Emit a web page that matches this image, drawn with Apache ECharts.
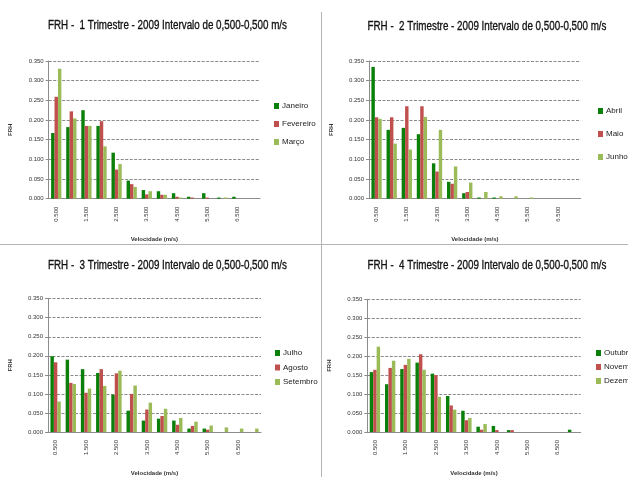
<!DOCTYPE html>
<html>
<head>
<meta charset="utf-8">
<script src="https://cdn.jsdelivr.net/npm/echarts@6/dist/echarts.min.js"></script>
<style>
  html, body { margin: 0; padding: 0; background: #fff; }
  #main { width: 628px; height: 477px; }
</style>
</head>
<body>
<div id="main"></div>
<script>
const categories = ['0.500', '1.000', '1.500', '2.000', '2.500', '3.000', '3.500',
    '4.000', '4.500', '5.000', '5.500', '6.000', '6.500', '7.000']
const yTicks = [0, 0.05, 0.1, 0.15, 0.2, 0.25, 0.3, 0.35]

const janeiro = [0.167, 0.182, 0.225, 0.185, 0.117, 0.046, 0.022, 0.019, 0.014, 0.005, 0.014, 0.003, 0.005, 0]
const fevereiro = [0.259, 0.222, 0.185, 0.197, 0.074, 0.037, 0.011, 0.010, 0.005, 0.003, 0.003, 0, 0, 0]
const marco = [0.330, 0.204, 0.185, 0.133, 0.088, 0.030, 0.019, 0.010, 0.003, 0, 0, 0.003, 0, 0]

const abril = [0.335, 0.175, 0.180, 0.164, 0.090, 0.043, 0.014, 0.003, 0.003, 0, 0, 0, 0, 0]
const maio = [0.207, 0.207, 0.235, 0.235, 0.069, 0.038, 0.017, 0, 0, 0, 0, 0, 0, 0]
const junho = [0.203, 0.140, 0.125, 0.208, 0.175, 0.082, 0.041, 0.017, 0.006, 0.006, 0.003, 0, 0, 0]

const julho = [0.199, 0.190, 0.165, 0.155, 0.098, 0.056, 0.030, 0.035, 0.030, 0.009, 0.009, 0, 0, 0]
const agosto = [0.183, 0.129, 0.103, 0.165, 0.154, 0.100, 0.059, 0.042, 0.019, 0.016, 0.006, 0, 0, 0]
const setembro = [0.080, 0.126, 0.114, 0.121, 0.161, 0.122, 0.077, 0.061, 0.037, 0.027, 0.017, 0.012, 0.009, 0.009]

const outubro = [0.158, 0.126, 0.166, 0.183, 0.154, 0.095, 0.056, 0.014, 0.016, 0.005, 0, 0, 0, 0.006]
const novembro = [0.164, 0.169, 0.177, 0.205, 0.150, 0.070, 0.031, 0.006, 0.005, 0.005, 0, 0, 0, 0]
const dezembro = [0.225, 0.188, 0.193, 0.164, 0.093, 0.059, 0.037, 0.021, 0, 0, 0, 0, 0, 0]

const colors = ['#0a800a', '#c0504d', '#9bbb59']
const labelFont = "'Liberation Sans', Arial, sans-serif"
const titleFont = "13.5px 'Liberation Sans', Arial, sans-serif"

const panels = [
    { title: 'FRH -  1 Trimestre - 2009 Intervalo de 0,500-0,500 m/s', tx: 167.5, ty: 25,
      grid: { left: 48.7, top: 61, width: 211.3, height: 137.7 },
      legend: { left: 274, top: 102, gap: 10 },
      names: ['Janeiro', 'Fevereiro', 'Março'], data: [janeiro, fevereiro, marco] },
    { title: 'FRH -  2 Trimestre - 2009 Intervalo de 0,500-0,500 m/s', tx: 487, ty: 26,
      grid: { left: 369, top: 61, width: 211.7, height: 137.7 },
      legend: { left: 598, top: 107, gap: 15 },
      names: ['Abril', 'Maio', 'Junho'], data: [abril, maio, junho] },
    { title: 'FRH -  3 Trimestre - 2009 Intervalo de 0,500-0,500 m/s', tx: 167.5, ty: 265,
      grid: { left: 48, top: 298.7, width: 213, height: 138 },
      legend: { left: 275, top: 349, gap: 6.5 },
      names: ['Julho', 'Agosto', 'Setembro'], data: [julho, agosto, setembro] },
    { title: 'FRH -  4 Trimestre - 2009 Intervalo de 0,500-0,500 m/s', tx: 487, ty: 265,
      grid: { left: 367.3, top: 299.3, width: 213.4, height: 137.4 },
      legend: { left: 596, top: 349, gap: 6 },
      names: ['Outubro', 'Novembro', 'Dezembro'], data: [outubro, novembro, dezembro] }
]

// the titles are drawn narrower than the installed fonts, like the original condensed face
const ctx = document.createElement('canvas').getContext('2d')
ctx.font = titleFont
const titleScale = 239 / ctx.measureText(panels[0].title).width

const chart = echarts.init(document.getElementById('main'))

const option = {
    backgroundColor: '#fff',
    animation: false,
    color: colors,
    legend: [],
    grid: [],
    xAxis: [],
    yAxis: [],
    series: [],
    graphic: [
        { type: 'line', shape: { x1: 321.5, y1: 12, x2: 321.5, y2: 477 }, style: { stroke: '#b4b4b4', lineWidth: 1 } },
        { type: 'line', shape: { x1: 0, y1: 244.5, x2: 628, y2: 244.5 }, style: { stroke: '#b4b4b4', lineWidth: 1 } }
    ]
}

panels.forEach((p, i) => {
    option.graphic.push({
        type: 'text',
        x: p.tx,
        y: p.ty,
        scaleX: titleScale,
        style: { text: p.title, x: 0, y: 0, font: titleFont, fill: '#111', stroke: '#111', lineWidth: 0.35,
            align: 'center', verticalAlign: 'middle' }
    })
    option.legend.push({
        data: p.names,
        orient: 'vertical',
        left: p.legend.left,
        top: p.legend.top,
        itemGap: p.legend.gap,
        itemWidth: 5,
        itemHeight: 6,
        icon: 'rect',
        padding: 0,
        textStyle: { fontFamily: labelFont, fontSize: 8, color: '#222', padding: [0, 0, 0, -2] }
    })
    option.grid.push({ left: p.grid.left, top: p.grid.top, width: p.grid.width, height: p.grid.height })
    option.xAxis.push({
        type: 'category',
        gridIndex: i,
        data: categories,
        name: 'Velocidade (m/s)',
        nameLocation: 'middle',
        nameGap: 38,
        nameTextStyle: { fontFamily: labelFont, fontSize: 6, fontWeight: 'bold', color: '#333' },
        axisLine: { lineStyle: { color: '#8c8c8c' } },
        axisTick: { interval: 0, length: 3, lineStyle: { color: '#8c8c8c' } },
        axisLabel: { interval: 1, rotate: 90, margin: 8, fontSize: 6, fontFamily: labelFont, color: '#333' }
    })
    option.yAxis.push({
        type: 'value',
        gridIndex: i,
        min: yTicks[0],
        max: yTicks[yTicks.length - 1],
        interval: 0.05,
        name: 'FRH',
        nameLocation: 'middle',
        nameGap: 35,
        nameRotate: 90,
        nameTextStyle: { fontFamily: labelFont, fontSize: 6, fontWeight: 'bold', color: '#333' },
        axisLine: { show: true, lineStyle: { color: '#8c8c8c' } },
        axisTick: { show: true, length: 3, lineStyle: { color: '#8c8c8c' } },
        axisLabel: { margin: 5, fontSize: 6, fontFamily: labelFont, color: '#333',
            formatter: v => v.toFixed(3) },
        splitLine: { lineStyle: { color: '#8a8a8a', type: [3, 1.5] } }
    })
    p.names.forEach((name, k) => {
        option.series.push({
            name: name,
            type: 'bar',
            xAxisIndex: i,
            yAxisIndex: i,
            data: p.data[k],
            barGap: '0%',
            barCategoryGap: '32%',
            itemStyle: { color: colors[k] }
        })
    })
})

chart.setOption(option)
</script>
</body>
</html>
